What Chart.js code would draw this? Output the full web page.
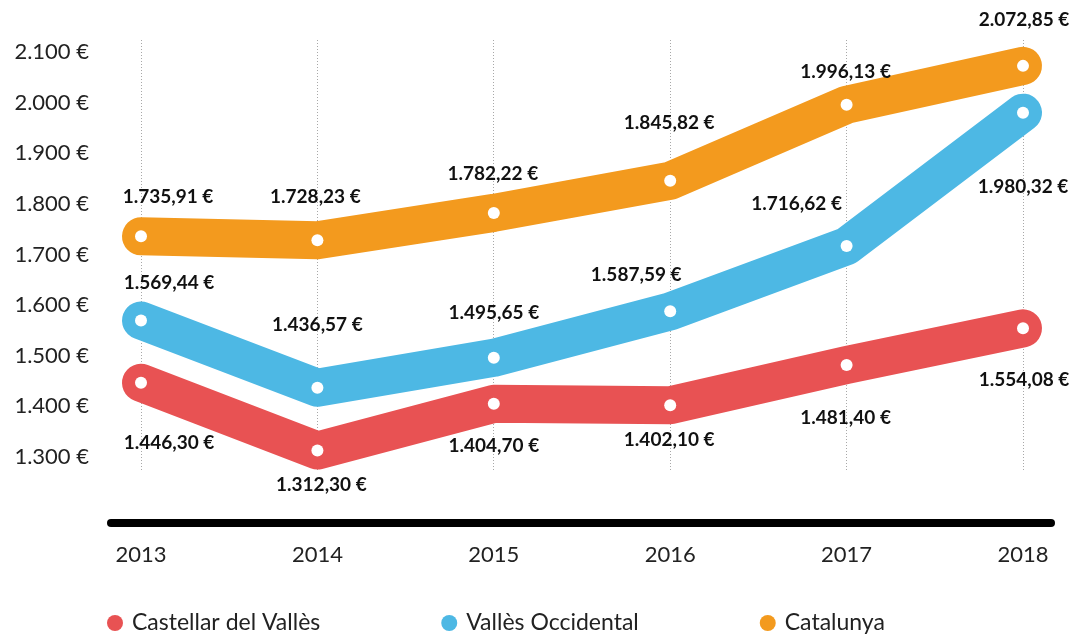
<!DOCTYPE html>
<html>
<head>
<meta charset="utf-8">
<script src="https://cdn.jsdelivr.net/npm/chart.js@4"></script>
<style>
  html, body { margin: 0; padding: 0; background: #fff; }
  #wrap { width: 1076px; height: 635px; position: relative; }
</style>
</head>
<body>
<div id="wrap"><canvas id="chart"></canvas></div>
<script>
// dades (llegides de la imatge)
const years = ['2013', '2014', '2015', '2016', '2017', '2018'];
const castellar = [1446.30, 1312.30, 1404.70, 1402.10, 1481.40, 1554.08];
const valles    = [1569.44, 1436.57, 1495.65, 1587.59, 1716.62, 1980.32];
const catalunya = [1735.91, 1728.23, 1782.22, 1845.82, 1996.13, 2072.85];
const yTicks    = [1300, 1400, 1500, 1600, 1700, 1800, 1900, 2000, 2100];
const seriesNames = ['Castellar del Vallès', 'Vallès Occidental', 'Catalunya'];

// colors
const COLORS = {
  red: '#E85253',
  blue: '#4DB8E4',
  orange: '#F39A1E',
  text: '#222222',
  grid: '#a8a8a8',
};

// on va cada etiqueta respecte al seu punt (px)
const LABEL_OFFSETS = [
  { dx: [28, 4, 0, -1, -1, 1],    dy: [60, 34, 42, 35, 53, 52] },
  { dx: [28, 0, 0, -34, -50, 0],  dy: [-38, -63, -45, -36, -42, 74] },
  { dx: [27, -2, -1, -1, -1, 1],  dy: [-39, -43, -39, -58, -33, -46] },
];

function fmtThousands(n) {
  return String(n).replace(/\B(?=(\d{3})+(?!\d))/g, '.');
}
function fmtEuro(v) {
  const [i, d] = v.toFixed(2).split('.');
  return fmtThousands(i) + ',' + d + ' €';
}

// etiquetes de valor sobre cada punt
const valueLabels = {
  id: 'valueLabels',
  afterDatasetsDraw(chart) {
    const ctx = chart.ctx;
    ctx.save();
    ctx.font = 'bold 19px Lato';
    ctx.fillStyle = '#111';
    ctx.textAlign = 'center';
    ctx.textBaseline = 'middle';
    chart.data.datasets.forEach((ds, di) => {
      const meta = chart.getDatasetMeta(di);
      const off = LABEL_OFFSETS[di];
      meta.data.forEach((pt, i) => {
        ctx.fillText(fmtEuro(ds.data[i]), pt.x + off.dx[i], pt.y + off.dy[i]);
      });
    });
    ctx.restore();
  },
};

// línia negra gruixuda de la base
const baseLine = {
  id: 'baseLine',
  afterDraw(chart) {
    const { ctx, chartArea } = chart;
    const y = chartArea.bottom + 51;
    ctx.save();
    ctx.strokeStyle = '#000';
    ctx.lineWidth = 8;
    ctx.lineCap = 'round';
    ctx.beginPath();
    ctx.moveTo(chartArea.left - 30, y);
    ctx.lineTo(chartArea.right + 28, y);
    ctx.stroke();
    ctx.restore();
  },
};

// llegenda a mà (punt + text)
const bottomLegend = {
  id: 'bottomLegend',
  afterDraw(chart) {
    const ctx = chart.ctx;
    let x = 107;
    const y = 623;
    ctx.save();
    ctx.font = '23px Lato';
    ctx.textBaseline = 'middle';
    chart.data.datasets.forEach((ds) => {
      ctx.fillStyle = ds.borderColor;
      ctx.beginPath();
      ctx.arc(x + 8, y, 8, 0, Math.PI * 2);
      ctx.fill();
      ctx.fillStyle = COLORS.text;
      ctx.fillText(ds.label, x + 25, y);
      x += 25 + ctx.measureText(ds.label).width + 121;
    });
    ctx.restore();
  },
};

function lineDataset(label, data, color) {
  return {
    label,
    data,
    borderColor: color,
    backgroundColor: color,
    borderWidth: 38,
    borderCapStyle: 'round',
    borderJoinStyle: 'round',
    tension: 0,
    pointRadius: 6,
    pointHoverRadius: 6,
    pointBackgroundColor: '#fff',
    pointBorderWidth: 0,
    clip: false,
  };
}

Chart.defaults.font.family = "Lato, 'Open Sans', sans-serif";
Chart.defaults.color = COLORS.text;

new Chart(document.getElementById('chart'), {
  type: 'line',
  data: {
    labels: years,
    datasets: [
      lineDataset(seriesNames[0], castellar, COLORS.red),
      lineDataset(seriesNames[1], valles, COLORS.blue),
      lineDataset(seriesNames[2], catalunya, COLORS.orange),
    ],
  },
  options: {
    responsive: true,
    maintainAspectRatio: false,
    animation: false,
    events: [],
    layout: { padding: { top: 40, right: 53, left: 0, bottom: 0 } },
    plugins: {
      legend: { display: false },
      tooltip: { enabled: false },
    },
    scales: {
      x: {
        offset: false,
        grid: { color: COLORS.grid, lineWidth: 1, drawTicks: false },
        border: { display: false, dash: [1, 2] },
        ticks: { font: { size: 22 }, color: COLORS.text, padding: 70, maxRotation: 0, autoSkip: false },
        afterFit: (s) => { s.height = 163; s.paddingLeft = 0; s.paddingRight = 0; },
      },
      y: {
        min: 1270,
        max: 2124,
        grid: { display: false, drawTicks: false },
        border: { display: false },
        ticks: {
          font: { size: 22 },
          color: COLORS.text,
          padding: 52,
          callback: (v) => fmtThousands(v) + ' €',
        },
        afterBuildTicks: (s) => { s.ticks = yTicks.map((v) => ({ value: v })); },
        afterFit: (s) => { s.width = 141; s.paddingTop = 0; s.paddingBottom = 0; },
      },
    },
  },
  plugins: [valueLabels, baseLine, bottomLegend],
});
</script>
</body>
</html>
